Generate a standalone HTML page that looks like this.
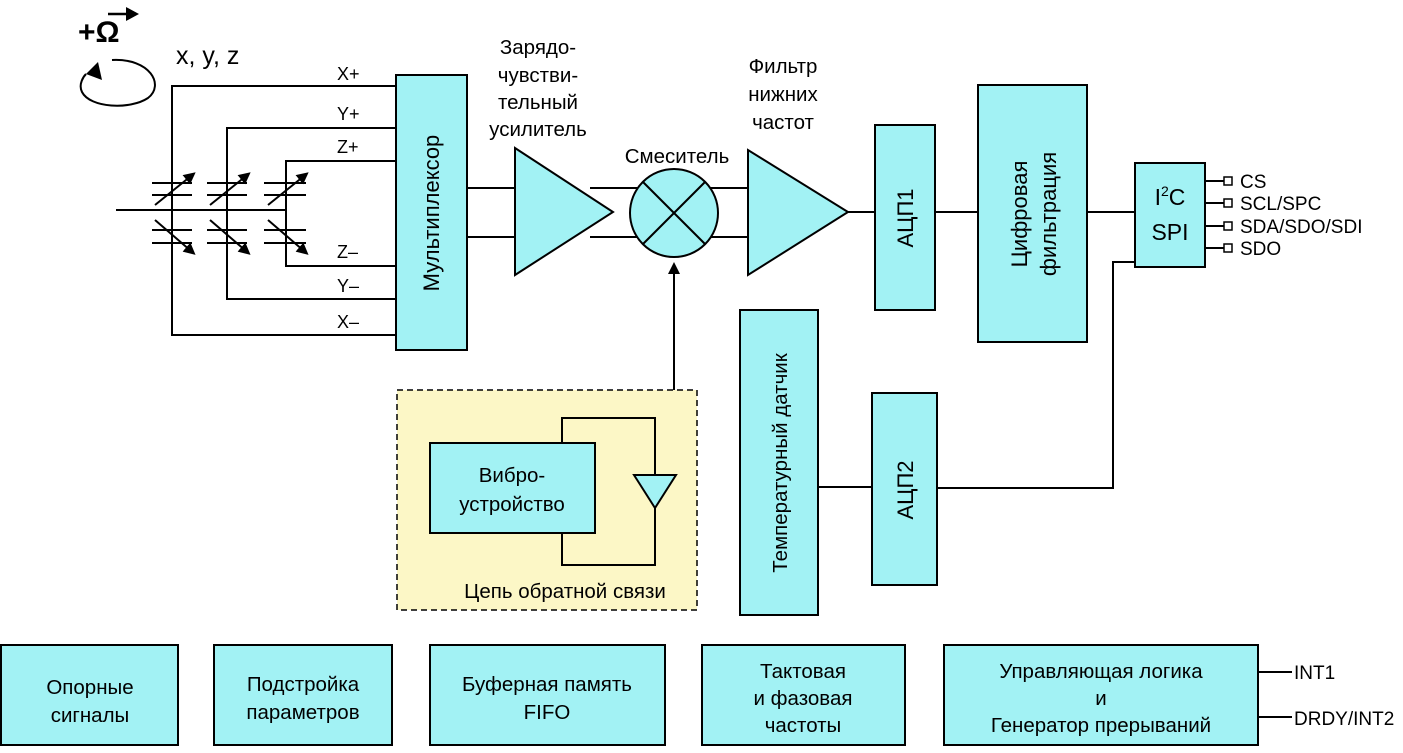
<!DOCTYPE html>
<html><head><meta charset="utf-8"><style>
body{margin:0;background:#fff}
svg{display:block;font-family:"Liberation Sans",Arial,sans-serif;font-size:20.5px}
</style></head><body>
<svg width="1403" height="753" viewBox="0 0 1403 753" xmlns="http://www.w3.org/2000/svg">
<defs><marker id="ar" markerWidth="12" markerHeight="12" refX="6" refY="6" orient="auto" markerUnits="userSpaceOnUse"><path d="M0,0 L12,6 L0,12 z" fill="#000"/></marker></defs>
<g stroke="#000" stroke-width="2" fill="none">
<path d="M112,60 C150,58 165,85 148,98 C130,110 90,108 82,92 C78,84 84,76 86,74"/>
<polyline points="396,86 172,86 172,335 396,335"/>
<polyline points="396,128 227,128 227,299 396,299"/>
<polyline points="396,161 286,161 286,266 396,266"/>
<line x1="116" y1="210" x2="286" y2="210"/>
<g>
<line x1="152" y1="183" x2="192" y2="183"/><line x1="152" y1="195" x2="192" y2="195"/>
<line x1="152" y1="230" x2="192" y2="230"/><line x1="152" y1="243" x2="192" y2="243"/>
<line x1="207" y1="183" x2="247" y2="183"/><line x1="207" y1="195" x2="247" y2="195"/>
<line x1="207" y1="230" x2="247" y2="230"/><line x1="207" y1="243" x2="247" y2="243"/>
<line x1="264" y1="183" x2="306" y2="183"/><line x1="264" y1="195" x2="306" y2="195"/>
<line x1="264" y1="230" x2="306" y2="230"/><line x1="264" y1="243" x2="306" y2="243"/>
<line x1="155" y1="205" x2="191" y2="176" marker-end="url(#ar)"/>
<line x1="210" y1="205" x2="246" y2="176" marker-end="url(#ar)"/>
<line x1="268" y1="205" x2="304" y2="176" marker-end="url(#ar)"/>
<line x1="155" y1="220" x2="191" y2="251" marker-end="url(#ar)"/>
<line x1="210" y1="220" x2="246" y2="251" marker-end="url(#ar)"/>
<line x1="268" y1="220" x2="304" y2="251" marker-end="url(#ar)"/>
</g>
<line x1="466" y1="188" x2="515" y2="188"/><line x1="466" y1="237" x2="515" y2="237"/>
<line x1="590" y1="188" x2="640" y2="188"/><line x1="590" y1="237" x2="640" y2="237"/>
<line x1="708" y1="188" x2="750" y2="188"/><line x1="708" y1="237" x2="750" y2="237"/>
<line x1="848" y1="212" x2="875" y2="212"/>
<line x1="935" y1="212" x2="978" y2="212"/>
<line x1="1087" y1="212" x2="1135" y2="212"/>
<polyline points="1135,262 1113,262 1113,488 937,488"/>
<line x1="818" y1="487" x2="872" y2="487"/>
<line x1="674" y1="390" x2="674" y2="268" marker-end="url(#ar)"/>
<line x1="1205" y1="181" x2="1224" y2="181"/><line x1="1205" y1="203" x2="1224" y2="203"/>
<line x1="1205" y1="226" x2="1224" y2="226"/><line x1="1205" y1="248" x2="1224" y2="248"/>
<line x1="1258" y1="672" x2="1292" y2="672"/><line x1="1258" y1="717" x2="1292" y2="717"/>
</g>
<path d="M86,74 L98,62 L102,80 z" fill="#000"/>
<line x1="108" y1="14" x2="128" y2="14" stroke="#000" stroke-width="2.5"/><path d="M126,7 L139,14 L126,21 z" fill="#000"/>
<text x="78" y="42" font-size="30" font-weight="bold">+Ω</text>
<text x="176" y="64" font-size="25">x, y, z</text>
<g font-size="18"><text x="337" y="80">X+</text><text x="337" y="120">Y+</text><text x="337" y="153">Z+</text><text x="337" y="258">Z–</text><text x="337" y="292">Y–</text><text x="337" y="328">X–</text></g>
<g fill="#a2f2f4" stroke="#000" stroke-width="2">
<rect x="396" y="75" width="71" height="275"/>
<path d="M515,148 L515,275 L613,212 z"/>
<circle cx="674" cy="213" r="44"/>
<path d="M748,150 L748,275 L848,212 z"/>
<rect x="875" y="125" width="60" height="185"/>
<rect x="978" y="85" width="109" height="257"/>
<rect x="1135" y="163" width="70" height="104"/>
<rect x="740" y="310" width="78" height="305"/>
<rect x="872" y="393" width="65" height="192"/>
</g>
<g stroke="#000" stroke-width="2"><line x1="643" y1="182" x2="705" y2="244"/><line x1="705" y1="182" x2="643" y2="244"/></g>
<g fill="#fff" stroke="#000" stroke-width="1.5">
<rect x="1224" y="177" width="8" height="8"/><rect x="1224" y="199" width="8" height="8"/><rect x="1224" y="222" width="8" height="8"/><rect x="1224" y="244" width="8" height="8"/>
</g>
<g font-size="19"><text x="1240" y="188">CS</text><text x="1240" y="210">SCL/SPC</text><text x="1240" y="233">SDA/SDO/SDI</text><text x="1240" y="255">SDO</text></g>
<text x="1170" y="205" text-anchor="middle" font-size="23">I<tspan font-size="14" dy="-9">2</tspan><tspan dy="9">C</tspan></text>
<text x="1170" y="240" text-anchor="middle" font-size="23">SPI</text>
<g text-anchor="middle">
<text x="538" y="54">Зарядо-</text><text x="538" y="82">чувстви-</text><text x="538" y="109">тельный</text><text x="538" y="136">усилитель</text>
<text x="677" y="163">Смеситель</text>
<text x="783" y="73">Фильтр</text><text x="783" y="101">нижних</text><text x="783" y="129">частот</text>
<text transform="translate(439,213) rotate(-90)" font-size="22">Мультиплексор</text>
<text transform="translate(913,218) rotate(-90)" font-size="22">АЦП1</text>
<text transform="translate(913,490) rotate(-90)" font-size="22">АЦП2</text>
<text transform="translate(787,463) rotate(-90)">Температурный датчик</text>
<text transform="translate(1027,214) rotate(-90)" font-size="22">Цифровая</text>
<text transform="translate(1056,214) rotate(-90)" font-size="22">фильтрация</text>
</g>
<rect x="397" y="390" width="300" height="220" fill="#fcf7c6" stroke="#000" stroke-width="1.5" stroke-dasharray="6,4"/>
<polyline points="562,443 562,418 655,418 655,565 562,565 562,533" fill="none" stroke="#000" stroke-width="2"/>
<path d="M634,475 L676,475 L655,508 z" fill="#a2f2f4" stroke="#000" stroke-width="2"/>
<rect x="430" y="443" width="165" height="90" fill="#a2f2f4" stroke="#000" stroke-width="2"/>
<text x="512" y="482" text-anchor="middle">Вибро-</text>
<text x="512" y="511" text-anchor="middle">устройство</text>
<text x="565" y="598" text-anchor="middle">Цепь обратной связи</text>
<g fill="#a2f2f4" stroke="#000" stroke-width="2">
<rect x="1" y="645" width="177" height="100"/><rect x="214" y="645" width="178" height="100"/>
<rect x="430" y="645" width="235" height="100"/><rect x="702" y="645" width="203" height="100"/>
<rect x="944" y="645" width="314" height="100"/>
</g>
<g text-anchor="middle">
<text x="90" y="694">Опорные</text><text x="90" y="722">сигналы</text>
<text x="303" y="691">Подстройка</text><text x="303" y="719">параметров</text>
<text x="547" y="691">Буферная память</text><text x="547" y="719">FIFO</text>
<text x="803" y="678">Тактовая</text><text x="803" y="705">и фазовая</text><text x="803" y="732">частоты</text>
<text x="1101" y="678">Управляющая логика</text><text x="1101" y="705">и</text><text x="1101" y="732">Генератор прерываний</text>
</g>
<text x="1294" y="679" font-size="19">INT1</text>
<text x="1294" y="725" font-size="19">DRDY/INT2</text>
</svg>
</body></html>
